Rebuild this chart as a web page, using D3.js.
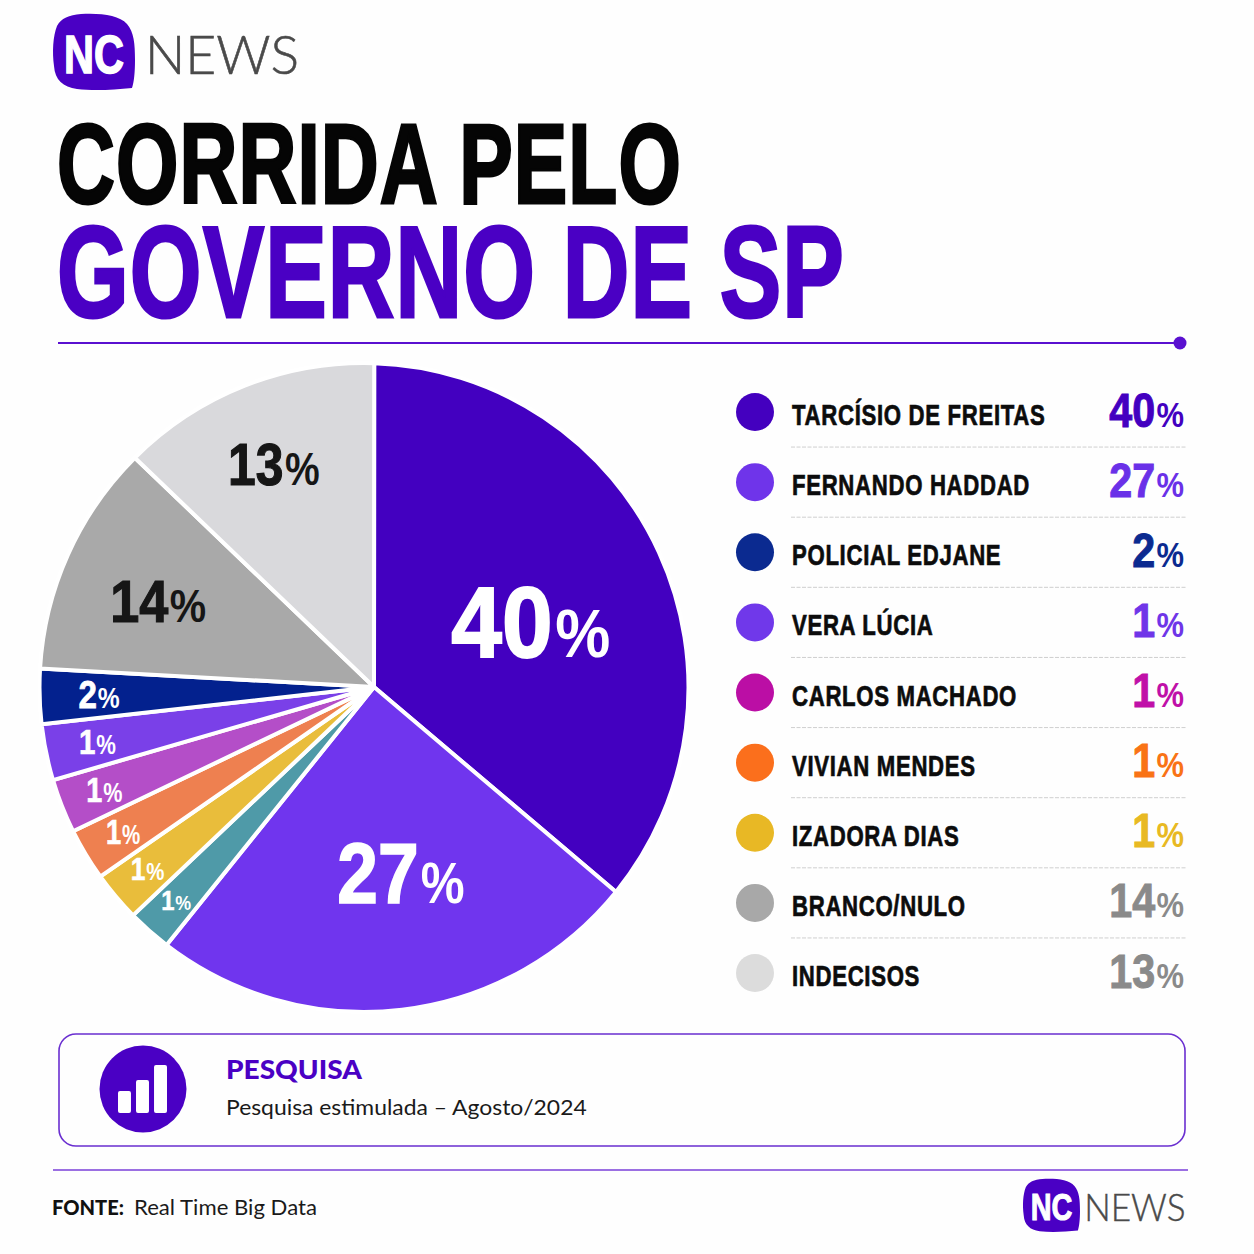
<!DOCTYPE html>
<html>
<head>
<meta charset="utf-8">
<style>
body { margin: 0; background: #fff; }
svg { display: block; }
.cond { font-family: "Liberation Sans Narrow", "Liberation Sans", sans-serif; font-weight: 700; }
.body { font-family: "Lato", sans-serif; }
</style>
</head>
<body>
<div id="chart"></div>
<script src="https://d3js.org/d3.v7.min.js"></script>
<script>
// slices, clockwise from the top. the arcs in the picture are not true to the
// printed numbers, so the share of the rim is read separately from the label
var sliceLabels = ["40", "27", "1", "1", "1", "1", "1", "2", "14", "13"];
var sliceShares = [35.4, 24.6, 2.2, 2.5, 2.6, 2.7, 2.8, 2.75, 11.6, 13.0];
var sliceColors = ["#4300c0", "#7035ee", "#4f9aa8", "#e9bd3b", "#ee8050", "#b44ec8", "#7a40e8", "#03218e", "#a9a9a9", "#d9d9dc"];
var sliceText = ["#fff", "#fff", "#fff", "#fff", "#fff", "#fff", "#fff", "#fff", "#161616", "#161616"];

// legend
var names = ["TARCÍSIO DE FREITAS", "FERNANDO HADDAD", "POLICIAL EDJANE", "VERA LÚCIA", "CARLOS MACHADO", "VIVIAN MENDES", "IZADORA DIAS", "BRANCO/NULO", "INDECISOS"];
var values = ["40", "27", "2", "1", "1", "1", "1", "14", "13"];
var dotColors = ["#4400bf", "#6f34ea", "#0b2a90", "#7038ea", "#bb0ea5", "#fb6f1c", "#e8b825", "#a8a8a8", "#dcdcdc"];
var valueColors = ["#4300c0", "#6a30e8", "#0b2a90", "#6f35e8", "#c010a8", "#f97316", "#e8b923", "#8a8a8a", "#8a8a8a"];

var purple = "#4a00c4";

var svg = d3.select("#chart").append("svg")
    .attr("width", 1254)
    .attr("height", 1254);

svg.append("rect").attr("width", 1254).attr("height", 1254).attr("fill", "#fefefe");

// squeeze a text sideways to reach a wanted width
function squeeze(t, x, y, k) {
  t.attr("transform", "translate(" + x + "," + y + ") scale(" + k + ",1)");
  return t;
}
function fit(t, x, y, w) {
  return squeeze(t, x, y, w / t.node().getComputedTextLength());
}

// ---- logo
function logo(g, newsX, newsW) {
  g.append("path")
    .attr("d", "M28 0 C48 -1 66 1 74 10 C81 18 82 30 82 46 C82 58 81 68 79 74 C60 76 40 77 24 75 C10 73 2 66 1 52 C-1 38 0 22 4 12 C8 4 16 1 28 0 Z")
    .attr("fill", purple);
  var nc = g.append("text").attr("class", "cond")
    .attr("font-family", "Liberation Sans")
    .attr("font-size", 53)
    .attr("fill", "#fff")
    .attr("stroke", "#fff")
    .attr("stroke-width", 1.5)
    .text("NC");
  fit(nc, 11, 59, 60);
  var news = g.append("text")
    .attr("font-family", "Lato")
    .attr("font-weight", 300)
    .attr("font-size", 53)
    .attr("fill", "#4a4a4a")
    .attr("stroke", "#4a4a4a")
    .attr("stroke-width", 0.6)
    .text("NEWS");
  fit(news, newsX, 60, newsW);
}
logo(svg.append("g").attr("transform", "translate(53,14)"), 92, 154);
logo(svg.append("g").attr("transform", "translate(1023,1179) scale(0.695)"), 88, 146);

// ---- title
var t1 = svg.append("text").attr("class", "cond")
    .attr("font-size", 113)
    .attr("letter-spacing", 1.5)
    .attr("fill", "#050505")
    .attr("stroke", "#050505")
    .attr("stroke-width", 3)
    .text("CORRIDA PELO");
fit(t1, 57, 203, 625);

var t2 = svg.append("text").attr("class", "cond")
    .attr("font-size", 129)
    .attr("letter-spacing", 1.5)
    .attr("fill", purple)
    .attr("stroke", purple)
    .attr("stroke-width", 3)
    .text("GOVERNO DE SP");
fit(t2, 57, 317, 788);

svg.append("line")
    .attr("x1", 58).attr("x2", 1180).attr("y1", 343).attr("y2", 343)
    .attr("stroke", "#5a10d0").attr("stroke-width", 2);
svg.append("circle").attr("cx", 1180).attr("cy", 343).attr("r", 6.5).attr("fill", "#5a10d0");

// ---- pie: the rim is a circle round (364,687) but the wedges meet at (374,687)
var cx = 364, cy = 687.5, radius = 324.5, apexX = 374, apexY = 687;
var start = 1.8 * Math.PI / 180;

var pie = d3.pie().sort(null).value(function(d) { return d; })
    .startAngle(start).endAngle(start + 2 * Math.PI);
var slices = pie(sliceShares);

function wedge(d) {
  var p = d3.path();
  p.moveTo(apexX, apexY);
  p.lineTo(cx + radius * Math.sin(d.startAngle), cy - radius * Math.cos(d.startAngle));
  p.arc(cx, cy, radius, d.startAngle - Math.PI / 2, d.endAngle - Math.PI / 2);
  p.closePath();
  return p.toString();
}

svg.append("g").selectAll("path")
    .data(slices)
  .enter().append("path")
    .attr("d", wedge)
    .attr("fill", function(d, i) { return sliceColors[i]; })
    .attr("stroke", "#fff")
    .attr("stroke-width", 4)
    .attr("stroke-linejoin", "round");

// label layout, one per slice: distance from rim centre, angle nudge, digit and % size, squeeze
var labelLayout = [
  { r: 179, nudge: 3.3, big: 100, small: 68, k: 0.91 },
  { r: 190, nudge: -4.5, big: 86, small: 58, k: 0.85 },
  { r: 284, nudge: 0, big: 28, small: 21, k: 0.85 },
  { r: 283, nudge: 0, big: 31, small: 24, k: 0.85 },
  { r: 281, nudge: 0, big: 36, small: 27, k: 0.76 },
  { r: 279, nudge: 0, big: 36, small: 27, k: 0.80 },
  { r: 272, nudge: 0, big: 36, small: 27, k: 0.82 },
  { r: 265, nudge: 0, big: 39, small: 29, k: 0.85 },
  { r: 223, nudge: -1.6, big: 60, small: 47, k: 0.87 },
  { r: 240, nudge: -0.5, big: 60, small: 47, k: 0.83 }
];

function pct(g, num, x, y, big, small, fill, fillPct, anchor, k) {
  var t = g.append("text").attr("class", "cond")
      .attr("text-anchor", anchor)
      .attr("fill", fill);
  t.append("tspan").attr("font-size", big).attr("stroke", fill).attr("stroke-width", big / 50).text(num);
  t.append("tspan").attr("font-size", small).attr("fill", fillPct).attr("dx", big * 0.03).text("%");
  squeeze(t, x, y, k);
}

var labelG = svg.append("g");
slices.forEach(function(d, i) {
  var l = labelLayout[i];
  var a = (d.startAngle + d.endAngle) / 2 + l.nudge * Math.PI / 180;
  var x = cx + l.r * Math.sin(a);
  var y = cy - l.r * Math.cos(a) + l.big * 0.34;
  pct(labelG, sliceLabels[i], x, y, l.big, l.small, sliceText[i], sliceText[i], "middle", l.k);
});

// ---- legend
var rowY = d3.scalePoint().domain(d3.range(names.length)).range([412, 973]);
var rowStep = rowY.step();

var rows = svg.append("g").selectAll("g")
    .data(names)
  .enter().append("g")
    .attr("transform", function(d, i) { return "translate(0," + rowY(i) + ")"; });

rows.append("circle")
    .attr("cx", 755)
    .attr("r", 19)
    .attr("fill", function(d, i) { return dotColors[i]; });

rows.each(function(d, i) {
  var g = d3.select(this);
  var t = g.append("text").attr("class", "cond")
      .attr("font-size", 30)
      .attr("letter-spacing", 0.9)
      .attr("fill", "#0c0c0c")
      .attr("stroke", "#0c0c0c")
      .attr("stroke-width", 0.7)
      .text(d);
  squeeze(t, 792, 13, 0.74);
  pct(g, values[i], 1184, 14.5, 48, 36, valueColors[i], valueColors[i], "end", 0.86);
  if (i < names.length - 1) {
    g.append("line")
      .attr("x1", 791).attr("x2", 1186)
      .attr("y1", rowStep / 2).attr("y2", rowStep / 2)
      .attr("stroke", "#cfcfcf")
      .attr("stroke-width", 1)
      .attr("stroke-dasharray", "4 1.5");
  }
});

// ---- survey box
svg.append("rect")
    .attr("x", 59).attr("y", 1034).attr("width", 1126).attr("height", 112).attr("rx", 17)
    .attr("fill", "none").attr("stroke", "#6a2fd0").attr("stroke-width", 1.6);
svg.append("circle").attr("cx", 143).attr("cy", 1089).attr("r", 43.5).attr("fill", purple);

var barHeights = [22, 33, 48];
var barX = d3.scaleBand().domain(d3.range(3)).range([118, 167]).paddingInner(0.28);
svg.append("g").selectAll("rect")
    .data(barHeights)
  .enter().append("rect")
    .attr("x", function(d, i) { return barX(i); })
    .attr("y", function(d) { return 1113 - d; })
    .attr("width", barX.bandwidth())
    .attr("height", function(d) { return d; })
    .attr("rx", 2)
    .attr("fill", "#fff");

fit(svg.append("text").attr("class", "body")
    .attr("font-size", 27).attr("font-weight", 900).attr("fill", purple).text("PESQUISA"), 226, 1079, 136);
fit(svg.append("text").attr("class", "body")
    .attr("font-size", 21.5).attr("fill", "#1a1a1a").text("Pesquisa estimulada – Agosto/2024"), 226, 1115, 361);

// ---- footer
svg.append("line")
    .attr("x1", 53).attr("x2", 1188).attr("y1", 1170).attr("y2", 1170)
    .attr("stroke", "#7a3fd8").attr("stroke-width", 1.6);
fit(svg.append("text").attr("class", "body")
    .attr("font-size", 20.5).attr("font-weight", 900).attr("fill", "#111").text("FONTE:"), 52, 1215, 72);
fit(svg.append("text").attr("class", "body")
    .attr("font-size", 21).attr("fill", "#1a1a1a").text("Real Time Big Data"), 134, 1215, 183);
</script>
</body>
</html>
